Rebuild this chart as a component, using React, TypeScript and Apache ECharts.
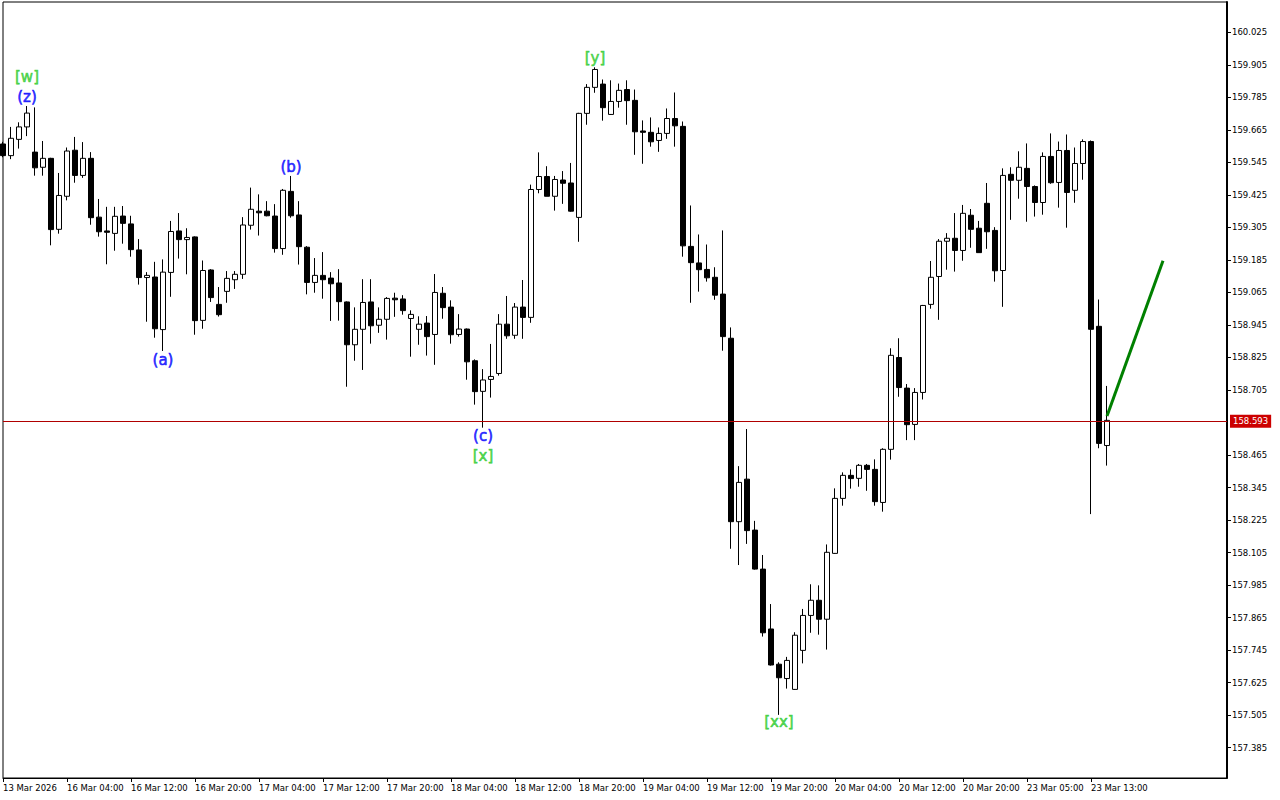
import { useEffect, useRef } from 'react';
import * as echarts from 'echarts';

// ---- Hourly candles (USD/JPY style H1) ----
const opens = [
  159.613, 159.570, 159.630, 159.676, 159.583, 159.527, 159.560, 159.298, 159.420, 159.590,
  159.497, 159.560, 159.343, 159.292, 159.283, 159.347, 159.318, 159.222, 159.120, 159.122,
  158.928, 159.139, 159.292, 159.260, 159.270, 158.962, 159.148, 159.021, 159.069, 159.112,
  159.132, 159.313, 159.365, 159.365, 159.347, 159.227, 159.438, 159.351, 159.232, 159.102,
  159.128, 159.118, 159.100, 159.030, 158.872, 158.929, 159.030, 158.944, 158.966, 159.044,
  159.041, 158.969, 158.929, 158.952, 158.910, 159.062, 159.011, 158.910, 158.930, 158.813,
  158.700, 158.744, 158.766, 158.948, 158.907, 159.011, 158.973, 159.445, 159.493, 159.420,
  159.480, 159.469, 159.342, 159.726, 159.822, 159.834, 159.722, 159.770, 159.814, 159.774,
  159.661, 159.656, 159.626, 159.652, 159.707, 159.678, 159.235, 159.174, 159.150, 159.121,
  159.059, 158.896, 158.219, 158.376, 158.188, 158.044, 157.823, 157.693, 157.640, 157.600,
  157.744, 157.873, 157.929, 157.859, 158.102, 158.305, 158.390, 158.379, 158.427, 158.412,
  158.290, 158.486, 158.825, 158.712, 158.578, 158.696, 159.021, 159.124, 159.254, 159.265,
  159.220, 159.350, 159.302, 159.394, 159.294, 159.146, 159.501, 159.479, 159.523, 159.456,
  159.397, 159.567, 159.471, 159.589, 159.442, 159.541, 159.622, 158.940, 158.500,
];
const highs = [
  159.621, 159.676, 159.693, 159.753, 159.748, 159.624, 159.562, 159.506, 159.600, 159.639,
  159.620, 159.583, 159.410, 159.381, 159.381, 159.384, 159.348, 159.262, 159.140, 159.178,
  159.187, 159.329, 159.358, 159.302, 159.272, 159.183, 159.151, 159.085, 159.144, 159.144,
  159.343, 159.452, 159.427, 159.402, 159.391, 159.447, 159.495, 159.402, 159.236, 159.192,
  159.214, 159.140, 159.151, 159.032, 159.010, 159.114, 159.114, 159.010, 159.048, 159.064,
  159.055, 158.999, 158.977, 158.978, 159.133, 159.085, 159.036, 158.985, 158.932, 158.818,
  158.782, 158.875, 158.985, 159.052, 159.026, 159.111, 159.463, 159.582, 159.531, 159.495,
  159.513, 159.543, 159.728, 159.834, 159.896, 159.851, 159.848, 159.836, 159.848, 159.814,
  159.700, 159.711, 159.674, 159.744, 159.803, 159.696, 159.386, 159.279, 159.242, 159.158,
  159.294, 158.936, 158.424, 158.561, 158.222, 158.096, 157.915, 157.700, 157.720, 157.811,
  157.897, 157.988, 157.984, 158.135, 158.342, 158.401, 158.412, 158.432, 158.432, 158.449,
  158.490, 158.859, 158.896, 158.727, 158.712, 159.019, 159.181, 159.262, 159.284, 159.358,
  159.388, 159.373, 159.329, 159.469, 159.306, 159.523, 159.527, 159.586, 159.615, 159.460,
  159.582, 159.652, 159.622, 159.648, 159.600, 159.630, 159.626, 159.039, 158.720,
];
const lows = [
  159.564, 159.557, 159.596, 159.642, 159.496, 159.496, 159.239, 159.282, 159.405, 159.470,
  159.488, 159.315, 159.271, 159.169, 159.219, 159.245, 159.197, 159.094, 158.957, 158.898,
  158.849, 159.049, 159.190, 159.132, 158.909, 158.931, 159.030, 158.976, 159.027, 159.078,
  159.115, 159.297, 159.275, 159.346, 159.212, 159.204, 159.341, 159.168, 159.058, 159.064,
  159.042, 158.960, 158.961, 158.717, 158.813, 158.779, 158.876, 158.916, 158.891, 158.975,
  158.983, 158.828, 158.872, 158.832, 158.798, 158.968, 158.876, 158.902, 158.743, 158.651,
  158.566, 158.677, 158.758, 158.894, 158.894, 158.894, 158.953, 159.431, 159.420, 159.367,
  159.392, 159.363, 159.252, 159.684, 159.802, 159.699, 159.720, 159.747, 159.684, 159.573,
  159.540, 159.603, 159.584, 159.632, 159.603, 159.197, 159.027, 159.068, 159.105, 159.038,
  158.850, 158.119, 158.059, 158.137, 158.042, 157.795, 157.688, 157.506, 157.603, 157.598,
  157.696, 157.809, 157.802, 157.747, 158.100, 158.278, 158.341, 158.348, 158.333, 158.278,
  158.256, 158.448, 158.680, 158.520, 158.520, 158.670, 159.005, 158.964, 159.149, 159.142,
  159.182, 159.230, 159.212, 159.226, 159.105, 159.012, 159.333, 159.411, 159.326, 159.345,
  159.352, 159.466, 159.378, 159.304, 159.396, 159.481, 158.247, 158.490, 158.426,
];
const closes = [
  159.570, 159.634, 159.676, 159.727, 159.525, 159.560, 159.297, 159.423, 159.587, 159.497,
  159.560, 159.341, 159.289, 159.287, 159.346, 159.320, 159.223, 159.120, 159.128, 158.931,
  159.140, 159.290, 159.260, 159.268, 158.961, 159.146, 159.046, 158.983, 159.117, 159.132,
  159.314, 159.372, 159.359, 159.348, 159.227, 159.442, 159.348, 159.234, 159.102, 159.128,
  159.112, 159.097, 159.031, 158.872, 158.929, 159.028, 158.942, 158.966, 159.043, 159.038,
  158.998, 158.984, 158.948, 158.902, 159.065, 159.009, 158.909, 158.930, 158.809, 158.699,
  158.742, 158.755, 158.948, 158.905, 159.011, 158.973, 159.445, 159.493, 159.420, 159.482,
  159.468, 159.365, 159.726, 159.822, 159.888, 159.747, 159.770, 159.811, 159.773, 159.658,
  159.656, 159.621, 159.652, 159.707, 159.680, 159.237, 159.175, 159.149, 159.119, 159.055,
  158.902, 158.219, 158.364, 158.186, 158.044, 157.809, 157.690, 157.643, 157.707, 157.800,
  157.873, 157.929, 157.859, 158.106, 158.305, 158.390, 158.378, 158.427, 158.412, 158.293,
  158.486, 158.833, 158.714, 158.577, 158.696, 159.017, 159.121, 159.254, 159.265, 159.220,
  159.357, 159.298, 159.212, 159.289, 159.145, 159.497, 159.479, 159.527, 159.456, 159.397,
  159.567, 159.470, 159.589, 159.434, 159.541, 159.622, 158.929, 158.508, 158.593,
];

// Trading sessions (day, first hour, last hour) that give the hourly categories
const sessions: [string, number, number][] = [
  ['13 Mar', 20, 23],
  ['16 Mar', 0, 23],
  ['17 Mar', 0, 23],
  ['18 Mar', 0, 23],
  ['19 Mar', 0, 23],
  ['20 Mar', 0, 23],
  ['23 Mar', 1, 15],
];
const futureSlots = 15;

const xTickLabels = [
  '13 Mar 2026', '16 Mar 04:00', '16 Mar 12:00', '16 Mar 20:00', '17 Mar 04:00', '17 Mar 12:00',
  '17 Mar 20:00', '18 Mar 04:00', '18 Mar 12:00', '18 Mar 20:00', '19 Mar 04:00', '19 Mar 12:00',
  '19 Mar 20:00', '20 Mar 04:00', '20 Mar 12:00', '20 Mar 20:00', '23 Mar 05:00', '23 Mar 13:00',
];
const xTickEvery = 8;

const yTicks = [
  157.385, 157.505, 157.625, 157.745, 157.865, 157.985, 158.105, 158.225, 158.345, 158.465,
  158.705, 158.825, 158.945, 159.065, 159.185, 159.305, 159.425, 159.545, 159.665, 159.785,
  159.905, 160.025,
];
const yMin = 157.273;
const yMax = 160.137;

const currentPrice = 158.593;

// projected move (green line): [category index, price]
const projection: [number, number][] = [
  [138, 158.609],
  [145, 159.182],
];

const BLUE = '#0000ff';
const GREEN = '#2ecc2e';
const waveLabels = [
  { text: '[w]', idx: 3, price: 159.860, color: GREEN },
  { text: '(z)', idx: 3, price: 159.786, color: BLUE },
  { text: '(a)', idx: 20, price: 158.816, color: BLUE },
  { text: '(b)', idx: 36, price: 159.528, color: BLUE },
  { text: '(c)', idx: 60, price: 158.535, color: BLUE },
  { text: '[x]', idx: 60, price: 158.461, color: GREEN },
  { text: '[y]', idx: 74, price: 159.930, color: GREEN },
  { text: '[xx]', idx: 97, price: 157.480, color: GREEN },
];

const pad = (n: number) => (n < 10 ? '0' + n : '' + n);
const categories: string[] = [];
sessions.forEach(([day, h0, h1]) => {
  for (let h = h0; h <= h1; h++) categories.push(`${day} ${pad(h)}:00`);
});
for (let i = 0; i < futureSlots; i++) categories.push('');

const AXIS_FONT = 'DejaVu Sans, Tahoma, sans-serif';

export default function App() {
  const ref = useRef<HTMLDivElement>(null);
  useEffect(() => {
    if (!ref.current) return;
    const chart = echarts.init(ref.current, undefined, { renderer: 'svg' });
    const showTick = (index: number) => index % xTickEvery === 0 && index < closes.length;
    chart.setOption({
      animation: false,
      backgroundColor: '#ffffff',
      grid: {
        left: 2,
        top: 2,
        right: 53,
        bottom: 22,
        show: true,
        borderColor: '#000',
        borderWidth: 1,
        backgroundColor: '#ffffff',
      },
      xAxis: {
        type: 'category',
        data: categories,
        boundaryGap: false,
        axisLine: { show: true, lineStyle: { color: '#000', width: 1 } },
        axisTick: {
          show: true,
          interval: (index: number) => showTick(index),
          length: 4,
          lineStyle: { color: '#000' },
        },
        axisLabel: {
          show: true,
          interval: (index: number) => showTick(index),
          formatter: (_v: string, index: number) => xTickLabels[Math.round(index / xTickEvery)] ?? '',
          align: 'left',
          margin: 5,
          color: '#000',
          fontSize: 8.5,
          fontFamily: AXIS_FONT,
        },
        splitLine: { show: false },
      },
      yAxis: {
        type: 'value',
        position: 'right',
        min: yMin,
        max: yMax,
        scale: true,
        axisLine: { show: true, lineStyle: { color: '#000', width: 2 } },
        axisTick: {
          show: true,
          length: 4,
          customValues: yTicks,
          lineStyle: { color: '#000' },
        },
        axisLabel: {
          show: true,
          customValues: yTicks,
          formatter: (v: number) => v.toFixed(3),
          margin: 5,
          color: '#000',
          fontSize: 8.5,
          fontFamily: AXIS_FONT,
        },
        splitLine: { show: false },
      },
      series: [
        {
          type: 'candlestick',
          data: opens.map((o, i) => [o, closes[i], lows[i], highs[i]]),
          barWidth: 5,
          large: false,
          itemStyle: {
            color: '#ffffff',
            color0: '#000000',
            borderColor: '#000000',
            borderColor0: '#000000',
            borderWidth: 1,
          },
          markLine: {
            silent: true,
            symbol: ['none', 'none'],
            lineStyle: { color: '#b00000', width: 1, type: 'solid' },
            label: {
              show: true,
              position: 'end',
              distance: 3,
              formatter: currentPrice.toFixed(3),
              backgroundColor: '#cc0000',
              color: '#ffffff',
              padding: [2, 3, 2, 3],
              fontSize: 8.5,
              fontFamily: AXIS_FONT,
            },
            data: [{ yAxis: currentPrice }],
          },
        },
        {
          type: 'line',
          data: projection,
          symbol: 'none',
          lineStyle: { color: '#008000', width: 3 },
          z: 5,
        },
        {
          type: 'scatter',
          symbolSize: 0,
          itemStyle: { color: 'transparent' },
          data: waveLabels.map((w) => ({
            value: [w.idx, w.price],
            label: {
              formatter: w.text,
              color: w.color,
              textBorderColor: w.color,
              textBorderWidth: 0.6,
            },
          })),
          label: {
            show: true,
            position: 'inside',
            fontSize: 15,
            fontFamily: 'DejaVu Sans, Verdana, sans-serif',
          },
          z: 6,
        },
      ],
    });
    return () => chart.dispose();
  }, []);
  return (
    <div
      ref={ref}
      style={{ position: 'fixed', left: 0, top: 0, width: 1280, height: 800, background: '#fff' }}
    />
  );
}
